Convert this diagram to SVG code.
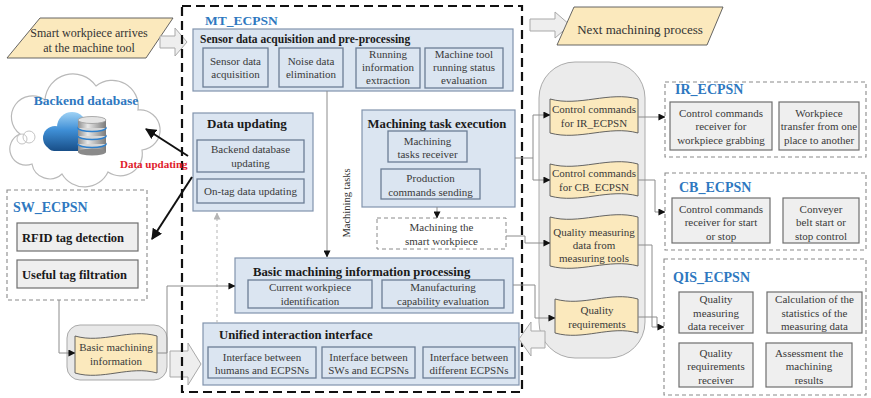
<svg xmlns="http://www.w3.org/2000/svg" width="871" height="398" viewBox="0 0 871 398" font-family="'Liberation Serif', 'Times New Roman', serif">
  <style>
    text { font-family: "Liberation Serif", "Times New Roman", serif; }
    .t { font-size: 11px; fill: #3a3a3a; text-anchor: middle; }
    .ttl { font-size: 12.7px; font-weight: bold; fill: #1a1a1a; }
    .lbl { font-size: 12.5px; font-weight: bold; fill: #1a1a1a; }
    .net { font-size: 14px; font-weight: bold; fill: #2e78c0; }
    .blue { fill: #dbe5f1; stroke: #8193ad; stroke-width: 1.2; }
    .blue-in { fill: #dbe5f1; stroke: #6c7d95; stroke-width: 1.3; }
    .gray { fill: #efefef; stroke: #6e6e6e; stroke-width: 1.2; }
    .doc { fill: #fbe9bd; stroke: #555; stroke-width: 0.9; }
    .grp { fill: none; stroke: #8a8a8a; stroke-width: 1.1; stroke-dasharray: 4 3; }
    .hollow { fill: #eeeeee; stroke: #a9a9a9; stroke-width: 1; }
    .conn { fill: none; stroke: #8c8c8c; stroke-width: 1; marker-end: url(#ah); }
    .plain { fill: none; stroke: #8c8c8c; stroke-width: 1; }
    .heavy { fill: none; stroke: #111; stroke-width: 2; marker-end: url(#ahBig); }
  </style>
  <defs>
    <marker id="ah" viewBox="0 0 8 8" refX="7.5" refY="4" markerWidth="7" markerHeight="7" markerUnits="userSpaceOnUse" orient="auto">
      <path d="M0,0 L8,4 L0,8 Z" fill="#111"/>
    </marker>
    <marker id="ahGray" viewBox="0 0 8 8" refX="7.5" refY="4" markerWidth="7" markerHeight="7" markerUnits="userSpaceOnUse" orient="auto">
      <path d="M0,0 L8,4 L0,8 Z" fill="#b5b5b5"/>
    </marker>
    <marker id="ahBig" viewBox="0 0 10 10" refX="9" refY="5" markerWidth="11" markerHeight="11" markerUnits="userSpaceOnUse" orient="auto">
      <path d="M0,0 L10,5 L0,10 Z" fill="#111"/>
    </marker>
    <linearGradient id="cloudBlue" gradientUnits="userSpaceOnUse" x1="0" y1="112" x2="0" y2="152">
      <stop offset="0" stop-color="#9fd2f5"/>
      <stop offset="0.45" stop-color="#3f8fd6"/>
      <stop offset="1" stop-color="#164b84"/>
    </linearGradient>
    <linearGradient id="silver" x1="0" y1="0" x2="1" y2="0">
      <stop offset="0" stop-color="#8d8d8d"/>
      <stop offset="0.35" stop-color="#e8e8e8"/>
      <stop offset="1" stop-color="#7a7a7a"/>
    </linearGradient>
  </defs>

  <!-- incoming workpiece -->
  <g id="workpiece-arrives">
    <polygon points="40,18 173,18 146,58 7,58" class="doc"/>
    <text x="89" y="37" font-size="12" fill="#333" text-anchor="middle">Smart workpiece arrives</text>
    <text x="89" y="52" font-size="12" fill="#333" text-anchor="middle">at the machine tool</text>
  </g>
  <polygon id="arrow-in" class="hollow" points="160,36 175,36 175,28 187,42 175,56 175,48 160,48"/>

  <!-- backend database cloud -->
  <g id="backend-database">
    <path d="M32,164 A16,16 0 0 1 20,134 A20,20 0 0 1 45,100 A28,28 0 0 1 96,86 A26,26 0 0 1 138,110 A20,20 0 0 1 142,150 A22,22 0 0 1 108,172 A26,26 0 0 1 62,174 A18,18 0 0 1 32,164 Z" fill="#fff" stroke="#b9b9b9" stroke-width="1.2"/>
    <circle cx="22" cy="139" r="5" fill="none" stroke="#c4c4c4" stroke-width="1"/>
    <circle cx="29" cy="137" r="6" fill="none" stroke="#c4c4c4" stroke-width="1"/>
    <text x="86" y="105" class="net" font-size="13.5" style="font-size:13.5px" text-anchor="middle">Backend database</text>
    <!-- cloud icon -->
    <g fill="url(#cloudBlue)">
      <circle cx="55" cy="138" r="12"/>
      <circle cx="72" cy="127" r="15"/>
      <circle cx="90" cy="133" r="11"/>
      <rect x="47" y="134" width="48" height="17" rx="7"/>
    </g>
    <!-- storage stack -->
    <g stroke="#2f80cc" stroke-width="1.6">
      <rect x="78" y="144" width="28" height="8" fill="url(#silver)" stroke="none"/>
      <ellipse cx="92" cy="152" rx="14" ry="3.5" fill="#8a8a8a" stroke="none"/>
      <ellipse cx="92" cy="144" rx="14" ry="3.5" fill="#d6d6d6"/>
      <rect x="78" y="136" width="28" height="8" fill="url(#silver)" stroke="none"/>
      <ellipse cx="92" cy="136" rx="14" ry="3.5" fill="#d6d6d6"/>
      <rect x="78" y="128" width="28" height="8" fill="url(#silver)" stroke="none"/>
      <ellipse cx="92" cy="128" rx="14" ry="3.5" fill="#d6d6d6"/>
      <rect x="78" y="120" width="28" height="8" fill="url(#silver)" stroke="none"/>
      <ellipse cx="92" cy="120" rx="14" ry="3.5" fill="#e4e4e4" stroke="#9a9a9a" stroke-width="0.8"/>
    </g>
  </g>

  <!-- software ECPSN -->
  <g id="sw-ecpsn">
    <rect x="7" y="190" width="140" height="110" class="grp"/>
    <text x="13" y="212" class="net">SW_ECPSN</text>
    <rect x="17" y="223" width="121" height="28" class="gray"/>
    <text x="22" y="242" class="lbl">RFID tag detection</text>
    <rect x="17" y="260" width="121" height="28" class="gray"/>
    <text x="22" y="279" class="lbl">Useful tag filtration</text>
  </g>

  <g id="basic-info-store">
    <rect x="67" y="325" width="100" height="55" rx="13" fill="#e8e8e8" stroke="#a9a9a9" stroke-width="1"/>
    <path d="M75,336 C102,344 130,328 157,336 L157,373 C130,365 102,381 75,373 Z" class="doc"/>
    <text x="116" y="351" class="t">Basic machining</text>
    <text x="116" y="365" class="t">information</text>
  </g>
  <polygon id="arrow-to-interface" class="hollow" points="170,351 188,351 188,343 201,364 188,385 188,377 170,377"/>

  <!-- machine tool ECPSN -->
  <g id="mt-ecpsn">
    <rect x="182" y="6" width="340" height="386" fill="none" stroke="#111" stroke-width="2.2" stroke-dasharray="9 5"/>
    <text x="205" y="25" class="net" style="font-size:13.5px">MT_ECPSN</text>
  </g>

  <g id="sensor-acquisition">
    <rect x="193" y="29" width="320" height="62" class="blue"/>
    <text x="200" y="43" class="ttl" style="font-size:11.5px">Sensor data acquisition and pre-processing</text>
    <rect x="203" y="48" width="65" height="39" class="blue-in"/>
    <text x="235.5" y="65" class="t">Sensor data</text>
    <text x="235.5" y="78" class="t">acquisition</text>
    <rect x="279" y="48" width="64" height="39" class="blue-in"/>
    <text x="311" y="65" class="t">Noise data</text>
    <text x="311" y="78" class="t">elimination</text>
    <rect x="356" y="48" width="64" height="40" class="blue-in"/>
    <text x="388" y="58" class="t">Running</text>
    <text x="388" y="71" class="t">information</text>
    <text x="388" y="84" class="t">extraction</text>
    <rect x="425" y="48" width="78" height="40" class="blue-in"/>
    <text x="464" y="58" class="t">Machine tool</text>
    <text x="464" y="71" class="t">running status</text>
    <text x="464" y="84" class="t">evaluation</text>
  </g>

  <g id="data-updating">
    <rect x="193" y="113" width="120" height="98" class="blue"/>
    <text x="207" y="128" class="ttl" style="font-size:13px">Data updating</text>
    <rect x="197" y="140" width="107" height="32" class="blue-in"/>
    <text x="250.5" y="153" class="t">Backend database</text>
    <text x="250.5" y="167" class="t">updating</text>
    <rect x="197" y="179" width="107" height="24" class="blue-in"/>
    <text x="250.5" y="195" class="t">On-tag data updating</text>
  </g>

  <g id="task-execution">
    <rect x="362" y="110" width="153" height="97" class="blue"/>
    <text x="437" y="128" class="ttl" text-anchor="middle">Machining task execution</text>
    <rect x="388" y="131" width="79" height="31" class="blue-in"/>
    <text x="427.5" y="145" class="t">Machining</text>
    <text x="427.5" y="158" class="t">tasks receiver</text>
    <rect x="381" y="169" width="99" height="30" class="blue-in"/>
    <text x="430.5" y="182" class="t">Production</text>
    <text x="430.5" y="196" class="t">commands sending</text>
  </g>

  <g id="machining-workpiece">
    <rect x="377" y="218" width="129" height="31" fill="#fff" stroke="#8a8a8a" stroke-width="1" stroke-dasharray="4 3"/>
    <text x="441.5" y="231" class="t">Machining the</text>
    <text x="441.5" y="245" class="t">smart workpiece</text>
  </g>

  <g id="basic-processing">
    <rect x="235" y="258" width="278" height="55" class="blue"/>
    <text x="253" y="276" class="ttl">Basic machining information processing</text>
    <rect x="248" y="280" width="124" height="28" class="blue-in"/>
    <text x="310" y="291" class="t">Current workpiece</text>
    <text x="310" y="305" class="t">identification</text>
    <rect x="382" y="280" width="122" height="28" class="blue-in"/>
    <text x="443" y="291" class="t">Manufacturing</text>
    <text x="443" y="305" class="t">capability evaluation</text>
  </g>

  <g id="unified-interface">
    <rect x="203" y="323" width="316" height="62" class="blue"/>
    <text x="219" y="339" class="ttl">Unified interaction interface</text>
    <rect x="208" y="347" width="108" height="31" class="blue-in"/>
    <text x="262" y="361" class="t">Interface between</text>
    <text x="262" y="374" class="t">humans and ECPSNs</text>
    <rect x="322" y="347" width="93" height="31" class="blue-in"/>
    <text x="368.5" y="361" class="t">Interface between</text>
    <text x="368.5" y="374" class="t">SWs and ECPSNs</text>
    <rect x="423" y="347" width="92" height="31" class="blue-in"/>
    <text x="469" y="361" class="t">Interface between</text>
    <text x="469" y="374" class="t">different ECPSNs</text>
  </g>

  <!-- outgoing workpiece -->
  <polygon id="arrow-out" class="hollow" points="530,19 555,19 555,12 570,25 555,38 555,31 530,31"/>
  <g id="next-process">
    <polygon points="574,7 723,7 707,45 557,45" class="doc"/>
    <text x="640" y="34" font-size="13" fill="#333" text-anchor="middle">Next machining process</text>
  </g>

  <!-- shared data store -->
  <g id="data-store">
    <rect x="539" y="62" width="106" height="296" rx="36" fill="#ebebeb" stroke="#ababab" stroke-width="1"/>
    <path d="M550,99 C579,107 609,91 638,99 L638,133 C609,125 579,141 550,133 Z" class="doc"/>
    <text x="594" y="113" class="t">Control commands</text>
    <text x="594" y="127" class="t">for IR_ECPSN</text>
    <path d="M550,164 C579,172 609,156 638,164 L638,196 C609,188 579,204 550,196 Z" class="doc"/>
    <text x="594" y="177" class="t">Control commands</text>
    <text x="594" y="191" class="t">for CB_ECPSN</text>
    <path d="M550,217 C579,225 609,209 638,217 L638,266 C609,258 579,274 550,266 Z" class="doc"/>
    <text x="594" y="236" class="t">Quality measuring</text>
    <text x="594" y="249" class="t">data from</text>
    <text x="594" y="262" class="t">measuring tools</text>
    <path d="M555,299 C583,307 610,291 638,299 L638,333 C610,325 583,341 555,333 Z" class="doc"/>
    <text x="597" y="314" class="t">Quality</text>
    <text x="597" y="328" class="t">requirements</text>
  </g>
  <polygon id="arrow-back" class="hollow" points="545,331 531,331 531,322 519,339 531,356 531,348 545,348"/>

  <!-- industrial robot ECPSN -->
  <g id="ir-ecpsn">
    <rect x="665" y="82" width="201" height="75" class="grp"/>
    <text x="675" y="94" class="net">IR_ECPSN</text>
    <rect x="670" y="102" width="102" height="48" class="gray"/>
    <text x="721" y="117" class="t">Control commands</text>
    <text x="721" y="130" class="t">receiver for</text>
    <text x="721" y="144" class="t">workpiece grabbing</text>
    <rect x="779" y="102" width="80" height="48" class="gray"/>
    <text x="819" y="117" class="t">Workpiece</text>
    <text x="819" y="130" class="t">transfer from one</text>
    <text x="819" y="144" class="t">place to another</text>
  </g>

  <!-- conveyor belt ECPSN -->
  <g id="cb-ecpsn">
    <rect x="665" y="173" width="201" height="77" class="grp"/>
    <text x="679" y="192" class="net">CB_ECPSN</text>
    <rect x="672" y="198" width="98" height="45" class="gray"/>
    <text x="721" y="213" class="t">Control commands</text>
    <text x="721" y="226" class="t">receiver for start</text>
    <text x="721" y="240" class="t">or stop</text>
    <rect x="783" y="198" width="76" height="45" class="gray"/>
    <text x="821" y="213" class="t">Conveyer</text>
    <text x="821" y="226" class="t">belt start or</text>
    <text x="821" y="240" class="t">stop control</text>
  </g>

  <!-- quality inspection ECPSN -->
  <g id="qis-ecpsn">
    <rect x="664" y="259" width="202" height="136" class="grp"/>
    <text x="673" y="282" class="net">QIS_ECPSN</text>
    <rect x="679" y="292" width="74" height="41" class="gray"/>
    <text x="716" y="303" class="t">Quality</text>
    <text x="716" y="317" class="t">measuring</text>
    <text x="716" y="330" class="t">data receiver</text>
    <rect x="767" y="292" width="95" height="41" class="gray"/>
    <text x="814.5" y="303" class="t">Calculation of the</text>
    <text x="814.5" y="317" class="t">statistics of the</text>
    <text x="814.5" y="330" class="t">measuring data</text>
    <rect x="679" y="343" width="74" height="44" class="gray"/>
    <text x="716" y="357" class="t">Quality</text>
    <text x="716" y="370" class="t">requirements</text>
    <text x="716" y="384" class="t">receiver</text>
    <rect x="766" y="343" width="86" height="44" class="gray"/>
    <text x="809" y="357" class="t">Assessment  the</text>
    <text x="809" y="370" class="t">machining</text>
    <text x="809" y="384" class="t">results</text>
  </g>

  <!-- connectors -->
  <g id="connectors">
    <path class="conn" d="M327,91 V257"/>
    <text transform="translate(350,203) rotate(-90)" font-size="10.5" fill="#333" text-anchor="middle">Machining tasks</text>
    <path class="conn" d="M437,207 V218"/>
    <path d="M217,323 V213" fill="none" stroke="#b5b5b5" stroke-width="1" stroke-dasharray="3 3" marker-end="url(#ahGray)"/>
    <path class="heavy" d="M188,156 L146,129"/>
    <path class="heavy" d="M192,177 L152,239"/>
    <text x="120" y="168" font-size="11" font-weight="bold" fill="#e0202a">Data updating</text>
    <path class="conn" d="M59,300 V353 H75"/>
    <path class="conn" d="M157,353 H167 V286 H235"/>
    <path class="conn" d="M515,158 H533 V115 H550"/>
    <path class="conn" d="M533,158 V180 H550"/>
    <path class="conn" d="M506,236 H525 V243 H550"/>
    <path class="conn" d="M513,285 H535 V318 H555"/>
    <path class="conn" d="M638,117 H665"/>
    <path class="conn" d="M638,180 H655 V212 H665"/>
    <path class="plain" d="M638,245 H652 V327"/>
    <path class="plain" d="M638,317 H657 V327"/>
    <path class="conn" d="M652,327 H664"/>
  </g>
</svg>
